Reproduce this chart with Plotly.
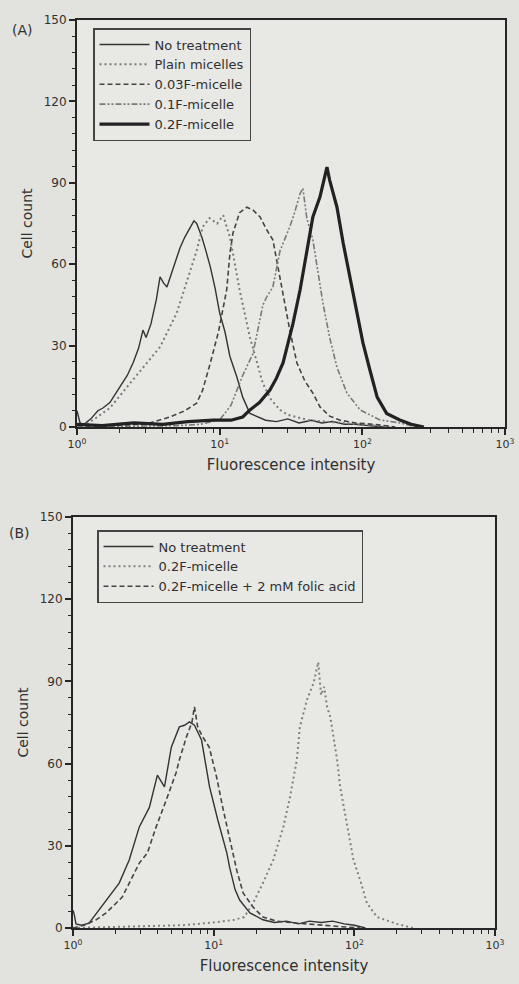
import plotly.graph_objects as go

# ---------------- Panel A data (x = fluorescence intensity, y = cell count)
a_none_x = [1.0, 1.02, 1.05, 1.12, 1.25, 1.4, 1.52, 1.7, 2.0, 2.25, 2.47, 2.7, 2.9, 3.05, 3.3, 3.6,
            3.82, 4.05, 4.27, 4.7, 5.27, 5.7, 6.2, 6.6, 6.9, 7.5, 8.0, 8.6, 9.3, 10.0, 10.9, 11.8,
            13.2, 14.5, 16.3, 18.5, 21, 25, 30, 36, 44, 52, 62, 75, 90, 110, 140]
a_none_y = [6, 4, 1.5, 1, 3, 6, 7, 9, 14.7, 19, 23.6, 29, 35.7, 33, 38, 47,
            55.3, 53, 51.6, 58, 66, 70, 73.7, 76, 75, 70, 65, 59, 51, 42, 35, 26,
            18.4, 11, 5, 3.7, 2.5, 2, 3, 1.5, 2.5, 1.5, 2, 1, 1, 0.5, 0]

a_plain_x = [1.0, 1.14, 1.3, 1.7, 2.24, 2.9, 3.82, 5.0, 5.9, 6.9, 7.6, 8.5, 9.6, 10.6, 11.2,
             11.8, 13.8, 16.3, 18.3, 20.1, 23, 26.5, 30, 34.8, 42, 55, 70, 90, 120, 160]
a_plain_y = [0.5, 1, 2.6, 7, 14.7, 22, 29.5, 42, 54, 65, 73.7, 77, 75, 78, 73.7,
             70, 50.5, 33, 23.6, 16, 10, 6.3, 4.5, 3.7, 2.5, 2, 1.5, 1, 0.5, 0]

a_003_x = [1.0, 2.0, 3.0, 4.48, 5.7, 6.9, 7.6, 8.6, 9.8, 11.2, 11.8, 12.4, 13.8, 15.5, 17.1,
           19.2, 21.4, 23.6, 25.2, 27.8, 31, 34.8, 39.5, 45, 50.5, 59, 70, 90, 120, 170]
a_003_y = [0, 0.5, 1, 3.7, 6, 8.8, 13.6, 23.6, 35, 50.5, 64, 71.5, 79, 81, 80,
           77.4, 72.6, 69, 61.5, 49, 35.7, 23.6, 17, 12.5, 7.4, 4, 2.5, 1.5, 1, 0]

a_01_x = [1.0, 3.0, 5.0, 7.3, 10.0, 12.0, 14.5, 17.1, 20.1, 21.4, 23.6, 26.5, 29, 31, 33.5,
          36.6, 38.3, 40.8, 45, 48.7, 52.8, 59, 66.4, 78, 96.5, 133, 183, 240]
a_01_y = [0, 0.5, 0.5, 1, 2.6, 8, 19, 27, 45, 48, 51.6, 65, 70, 73.7, 79,
          86, 88, 77, 69, 58, 46, 33, 22, 12.5, 6.3, 2.6, 1.5, 0]

a_02_x = [1.0, 1.5, 2.5, 4.0, 6.0, 9.0, 12.0, 14.5, 16.3, 19, 22.5, 25, 27.8, 30, 32.6, 36.6,
          40.8, 45, 50.5, 54, 56.5, 59, 62, 66.4, 73.4, 81.7, 91.6, 101, 113, 127, 148, 183,
          220, 270]
a_02_y = [1, 0.5, 1.5, 1, 2, 2.5, 2.5, 3.7, 6.3, 9, 13.6, 18, 23.6, 30, 38, 50.5,
          65, 77.4, 84.8, 91, 95.8, 91, 87, 81, 67.8, 55.3, 42, 31, 21, 11, 5, 2.6,
          1, 0]

# ---------------- Panel B data
b_none_x = [1.0, 1.02, 1.05, 1.15, 1.3, 1.53, 1.8, 2.13, 2.51, 2.96, 3.49, 3.98, 4.47, 5.0,
            5.7, 6.2, 6.73, 7.3, 8.2, 9.35, 10.7, 12.4, 13.0, 14.2, 15.3, 18.1, 22.4, 27, 33,
            40, 48, 58, 70, 85, 100, 120]
b_none_y = [6.5, 5, 1.5, 1, 1.8, 6.6, 11, 16.4, 24.8, 36.9, 44, 55.8, 51.5, 66,
            73.4, 74, 75.2, 74, 68.6, 51.5, 39.4, 27.4, 22, 14, 10.2, 5.5, 3, 2, 2.5,
            1.5, 2.5, 2, 2.5, 1.5, 1, 0]

b_02_x = [1.0, 3.0, 6.0, 10.0, 14.0, 16.5, 19, 22.4, 26.5, 31.3, 34.9, 39, 41, 46, 51.3,
          55.4, 58, 61, 64, 67.5, 75.5, 79.3, 89, 98.6, 110, 123, 145, 165, 200, 260]
b_02_y = [0, 0.5, 1, 2, 3, 4, 9, 16.4, 24.8, 36.9, 47.8, 61.3, 73.4, 83.2, 89.4,
          97, 85, 88, 80.7, 77, 61.3, 51.5, 36.9, 24.8, 17.5, 9, 4, 2.9, 1.5, 0]

b_fa_x = [1.0, 1.2, 1.45, 1.72, 2.24, 2.96, 3.38, 3.9, 4.6, 5.4, 5.7, 6.4, 7.0, 7.3, 7.7,
          8.3, 9.3, 10.5, 11.6, 13.0, 14.6, 16.2, 19, 22.4, 28, 35, 45, 60, 80, 110]
b_fa_y = [0, 1, 2.9, 5.5, 11.3, 23.7, 27.4, 36.9, 46.7, 56.6, 61.3, 69.7, 75, 80.7, 73.4,
          70, 66, 55, 44, 33, 21, 12.8, 7.7, 4, 2.5, 2, 1.5, 1, 0.5, 0]

x_tick_vals = [1, 10, 100, 1000]
x_tick_text = ["10<sup>0</sup>", "10<sup>1</sup>", "10<sup>2</sup>", "10<sup>3</sup>"]
x_minor_vals = [m * d for d in (1, 10, 100) for m in range(2, 10)]

FONT = "DejaVu Sans, Liberation Sans, Arial, sans-serif"
INK = "#262626"
TXT = "#303030"
PAPER = "#e2e2de"
PLOT = "#e8e8e5"

fig = go.Figure()

def add(x, y, name, ax, leg, color, width, dash):
    fig.add_trace(go.Scatter(
        x=x, y=y, name=name, mode="lines",
        xaxis="x" if ax == 1 else "x2", yaxis="y" if ax == 1 else "y2",
        legend=leg,
        line=dict(color=color, width=width, dash=dash),
    ))

add(a_none_x, a_none_y, "No treatment", 1, "legend", "#333333", 1.4, "solid")
add(a_plain_x, a_plain_y, "Plain micelles", 1, "legend", "#7a7a7a", 2, "2px,3px")
add(a_003_x, a_003_y, "0.03F-micelle", 1, "legend", "#444444", 1.6, "5px,3px")
add(a_01_x, a_01_y, "0.1F-micelle", 1, "legend", "#7a7a7a", 1.6, "6px,2px,2px,2px,2px,2px")
add(a_02_x, a_02_y, "0.2F-micelle", 1, "legend", "#222222", 3.2, "solid")

add(b_none_x, b_none_y, "No treatment", 2, "legend2", "#333333", 1.4, "solid")
add(b_02_x, b_02_y, "0.2F-micelle", 2, "legend2", "#808080", 2, "2px,3px")
add(b_fa_x, b_fa_y, "0.2F-micelle + 2 mM folic acid", 2, "legend2", "#444444", 1.6, "5px,3px")

W, H = 519, 984

def xaxis_cfg(domain, anchor):
    return dict(
        type="log", range=[0, 3], domain=domain, anchor=anchor, automargin=False,
        tickmode="array", tickvals=x_tick_vals, ticktext=x_tick_text,
        ticks="outside", ticklen=6, tickwidth=1.5, tickcolor=INK,
        minor=dict(tickmode="array", tickvals=x_minor_vals, ticks="outside",
                   ticklen=4, tickwidth=1.2, tickcolor=INK),
        showline=True, linewidth=2, linecolor=INK, mirror=True,
        showgrid=False, zeroline=False,
        tickfont=dict(size=11, color=TXT, family=FONT),
        title=dict(text="Fluorescence intensity", font=dict(size=15, color=TXT, family=FONT),
                   standoff=9),
    )

def yaxis_cfg(domain, anchor):
    return dict(
        range=[0, 150], domain=domain, anchor=anchor, automargin=False,
        tickmode="linear", tick0=0, dtick=30,
        ticks="outside", ticklen=6, tickwidth=1.5, tickcolor=INK,
        minor=dict(dtick=6, ticks="outside", ticklen=3.5, tickwidth=1.2, tickcolor=INK),
        showline=True, linewidth=2, linecolor=INK, mirror=True,
        showgrid=False, zeroline=False,
        tickfont=dict(size=12, color=TXT, family=FONT),
        title=dict(text="Cell count", font=dict(size=14, color=TXT, family=FONT),
                   standoff=8),
    )

legend_common = dict(
    xref="paper", yref="paper", xanchor="left", yanchor="top",
    bgcolor=PLOT, bordercolor="#444444", borderwidth=1.5,
    font=dict(size=13, color=TXT, family=FONT),
    itemwidth=50, tracegroupgap=0,
)

fig.update_layout(
    width=W, height=H,
    margin=dict(l=0, r=0, t=0, b=0, autoexpand=False),
    paper_bgcolor=PAPER, plot_bgcolor=PLOT,
    font=dict(family=FONT, color=TXT),
    xaxis=xaxis_cfg([77 / W, 505 / W], "y"),
    yaxis=yaxis_cfg([1 - 427 / H, 1 - 20 / H], "x"),
    xaxis2=xaxis_cfg([73 / W, 495 / W], "y2"),
    yaxis2=yaxis_cfg([1 - 928 / H, 1 - 517 / H], "x2"),
    legend=dict(x=93 / W, y=1 - 28 / H, **legend_common),
    legend2=dict(x=97 / W, y=1 - 530 / H, **legend_common),
    annotations=[
        dict(text="(A)", x=22 / W, y=1 - 30 / H, xref="paper", yref="paper",
             xanchor="center", yanchor="middle",
             showarrow=False, font=dict(size=14, color=TXT, family=FONT)),
        dict(text="(B)", x=19 / W, y=1 - 533 / H, xref="paper", yref="paper",
             xanchor="center", yanchor="middle",
             showarrow=False, font=dict(size=14, color=TXT, family=FONT)),
    ],
    showlegend=True,
)

fig.write_html("out.html")
